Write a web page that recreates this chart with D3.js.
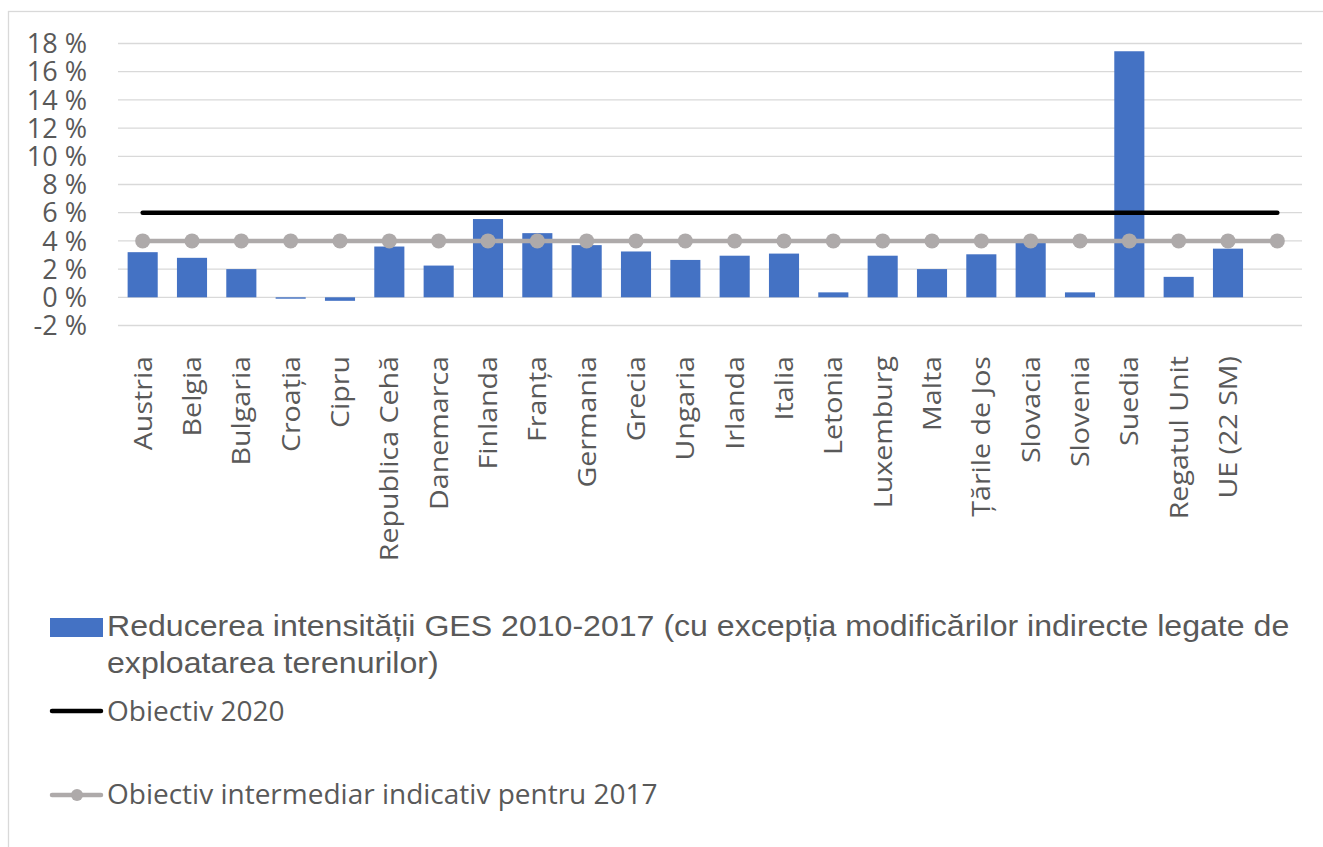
<!DOCTYPE html>
<html>
<head>
<meta charset="utf-8">
<script src="https://cdnjs.cloudflare.com/ajax/libs/d3/7.8.5/d3.min.js"></script>
<style>
  body { margin: 0; background: #fff; }
  svg { display: block; }
</style>
</head>
<body>
<div id="chart"></div>
<script>
// categories (last slot is empty in the original chart)
var countries = ["Austria", "Belgia", "Bulgaria", "Croația", "Cipru", "Republica Cehă", "Danemarca",
    "Finlanda", "Franța", "Germania", "Grecia", "Ungaria", "Irlanda", "Italia", "Letonia",
    "Luxemburg", "Malta", "Țările de Jos", "Slovacia", "Slovenia", "Suedia", "Regatul Unit",
    "UE (22 SM)", ""];

// reduction of GHG intensity 2010-2017, %
var reduction = [3.2, 2.8, 2.0, -0.1, -0.25, 3.6, 2.25, 5.55, 4.55, 3.7, 3.25, 2.65, 2.95, 3.1, 0.35,
    2.95, 2.0, 3.05, 3.85, 0.35, 17.45, 1.45, 3.45, null];

// target lines
var target2020 = [6, 6, 6, 6, 6, 6, 6, 6, 6, 6, 6, 6, 6, 6, 6, 6, 6, 6, 6, 6, 6, 6, 6, 6];
var target2017 = [4, 4, 4, 4, 4, 4, 4, 4, 4, 4, 4, 4, 4, 4, 4, 4, 4, 4, 4, 4, 4, 4, 4, 4];

var yTicks = [-2, 0, 2, 4, 6, 8, 10, 12, 14, 16, 18];

var legendLabels = [
    ["Reducerea intensității GES 2010-2017 (cu excepția modificărilor indirecte legate de", "exploatarea terenurilor)"],
    ["Obiectiv 2020"],
    ["Obiectiv intermediar indicativ pentru 2017"]
];

var W = 1323, H = 847;
var margin = { top: 43.5, left: 118, right: 21 };
var plotBottom = 325.5;

var svg = d3.select("#chart").append("svg")
    .attr("width", W)
    .attr("height", H);

// chart frame
svg.append("rect")
    .attr("x", 8.5).attr("y", 11.5)
    .attr("width", W + 20).attr("height", H + 20)
    .style("fill", "none")
    .style("stroke", "#d9d9d9")
    .style("stroke-width", 1.3);

var x = d3.scaleBand()
    .domain(d3.range(countries.length))
    .range([margin.left, W - margin.right])
    .paddingInner(0.39)
    .paddingOuter(0.195);

var y = d3.scaleLinear()
    .domain([-2, 18])
    .range([plotBottom, margin.top]);

var center = function (i) { return x(i) + x.bandwidth() / 2; };

// gridlines
svg.append("g")
    .selectAll("line")
    .data(yTicks)
    .join("line")
    .attr("x1", margin.left)
    .attr("x2", W - margin.right)
    .attr("y1", function (d) { return y(d); })
    .attr("y2", function (d) { return y(d); })
    .style("stroke", "#d9d9d9")
    .style("stroke-width", 1.3);

// y axis labels
svg.append("g")
    .selectAll("text")
    .data(yTicks)
    .join("text")
    .attr("x", 87)
    .attr("y", function (d) { return y(d); })
    .attr("dy", "0.36em")
    .attr("text-anchor", "end")
    .style("font-family", "'Open Sans', sans-serif")
    .style("font-size", "27px")
    .style("fill", "#595959")
    .text(function (d) { return d + " %"; });

// bars
svg.append("g")
    .selectAll("rect")
    .data(reduction.map(function (v, i) { return { i: i, v: v }; })
        .filter(function (d) { return d.v !== null; }))
    .join("rect")
    .attr("x", function (d) { return x(d.i); })
    .attr("width", x.bandwidth())
    .attr("y", function (d) { return y(Math.max(0, d.v)); })
    .attr("height", function (d) { return Math.abs(y(d.v) - y(0)); })
    .style("fill", "#4472c4");

// x labels
svg.append("g")
    .selectAll("text")
    .data(countries)
    .join("text")
    .attr("transform", function (d, i) {
        return "translate(" + center(i) + ",356) scale(1,1.1) rotate(-90)";
    })
    .attr("dy", "0.35em")
    .attr("text-anchor", "end")
    .style("font-family", "'Open Sans', sans-serif")
    .style("font-size", "26px")
    .style("fill", "#595959")
    .text(function (d) { return d; });

// objective 2020 line
var line = d3.line()
    .x(function (d, i) { return center(i); })
    .y(function (d) { return y(d); });

svg.append("path")
    .datum(target2020)
    .attr("d", line)
    .style("fill", "none")
    .style("stroke", "#000")
    .style("stroke-width", 4.5)
    .style("stroke-linecap", "round");

// intermediate 2017 line with markers
svg.append("path")
    .datum(target2017)
    .attr("d", line)
    .style("fill", "none")
    .style("stroke", "#aeaaaa")
    .style("stroke-width", 4.5)
    .style("stroke-linecap", "round");

svg.append("g")
    .selectAll("circle")
    .data(target2017)
    .join("circle")
    .attr("cx", function (d, i) { return center(i); })
    .attr("cy", function (d) { return y(d); })
    .attr("r", 7.5)
    .style("fill", "#aeaaaa");

// legend
var legend = svg.append("g");

legend.append("rect")
    .attr("x", 50).attr("y", 618)
    .attr("width", 53).attr("height", 19)
    .style("fill", "#4472c4");

legend.append("g")
    .attr("transform", "translate(107,636) scale(1.07,1)")
    .append("text")
    .style("font-family", "'Liberation Sans', Arial, sans-serif")
    .style("font-size", "30px")
    .style("fill", "#595959")
    .selectAll("tspan")
    .data(legendLabels[0])
    .join("tspan")
    .attr("x", 0)
    .attr("dy", function (d, i) { return i === 0 ? 0 : 37; })
    .text(function (d) { return d; });

legend.append("line")
    .attr("x1", 52).attr("x2", 101)
    .attr("y1", 711).attr("y2", 711)
    .style("stroke", "#000")
    .style("stroke-width", 4.5)
    .style("stroke-linecap", "round");

legend.append("text")
    .attr("x", 107).attr("y", 721)
    .style("font-family", "'Open Sans', sans-serif")
    .style("font-size", "28px")
    .style("fill", "#595959")
    .text(legendLabels[1][0]);

legend.append("line")
    .attr("x1", 52).attr("x2", 101)
    .attr("y1", 795).attr("y2", 795)
    .style("stroke", "#aeaaaa")
    .style("stroke-width", 4.5)
    .style("stroke-linecap", "round");

legend.append("circle")
    .attr("cx", 77).attr("cy", 795).attr("r", 6)
    .style("fill", "#aeaaaa");

legend.append("text")
    .attr("x", 107).attr("y", 804)
    .style("font-family", "'Open Sans', sans-serif")
    .style("font-size", "28px")
    .style("fill", "#595959")
    .text(legendLabels[2][0]);
</script>
</body>
</html>
